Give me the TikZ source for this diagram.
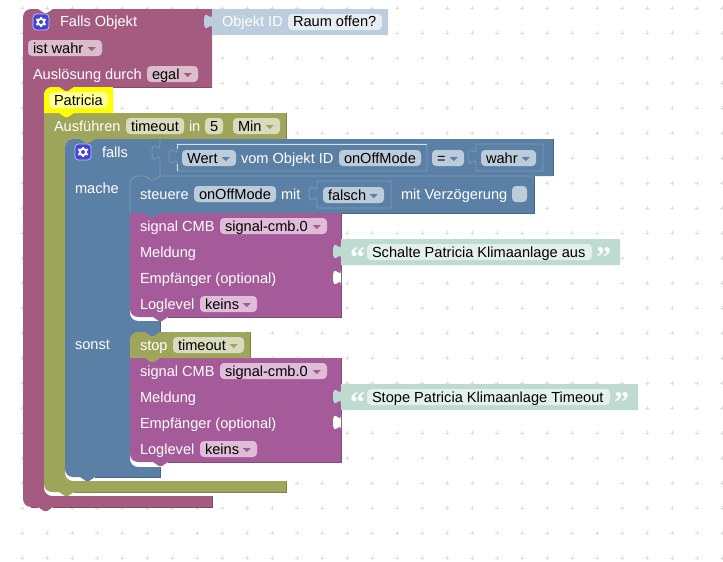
\documentclass[tikz,border=0pt]{standalone}
\usepackage{fontspec}
\setmainfont{Liberation Sans}
\newfontfamily\quotefont{Liberation Serif}[BoldFont={Liberation Serif Bold}]
\definecolor{cred}{HTML}{A55B80}
\definecolor{credd}{HTML}{84496A}
\definecolor{credf}{HTML}{DBBDCC}
\definecolor{colive}{HTML}{9FA55B}
\definecolor{colived}{HTML}{7F8449}
\definecolor{colivef}{HTML}{D8DBBD}
\definecolor{cblue}{HTML}{5B80A5}
\definecolor{cblued}{HTML}{496684}
\definecolor{cbluef}{HTML}{BDCCDB}
\definecolor{cbluel}{HTML}{7F9CB8}
\definecolor{cpurp}{HTML}{A55B99}
\definecolor{cpurpd}{HTML}{84497A}
\definecolor{cpurpf}{HTML}{DFBDD9}
\definecolor{cteal}{HTML}{BEDBD0}
\definecolor{ctealf}{HTML}{E3F0EC}
\definecolor{cobj}{HTML}{BCCDDD}
\definecolor{cobjf}{HTML}{E6ECF2}
\definecolor{cyel}{HTML}{FFFF00}
\definecolor{cyelf}{HTML}{FFFF99}
\definecolor{cgear}{HTML}{4444D8}
\definecolor{cdot}{HTML}{DEDEDE}
\newcount\nid
\newcommand{\tabR}{-- ++(6,4) -- ++(3,0) -- ++(6,-4)}
\newcommand{\tabL}{-- ++(-6,4) -- ++(-3,0) -- ++(-6,-4)}
\newcommand{\cUR}{.. controls +(0,-4.4) and +(-4.4,0) .. ++(8,-8)}
\newcommand{\cDR}{.. controls +(0,4.4) and +(-4.4,0) .. ++(8,8)}
\newcommand{\cLD}{.. controls +(-4.4,0) and +(0,-4.4) .. ++(-8,8)}
\newcommand{\cLU}{.. controls +(-4.4,0) and +(0,4.4) .. ++(-8,-8)}
\newcommand{\pzl}{.. controls +(0,10) and +(0,-15.5) .. ++(-8,7.5) .. controls +(0,15.5) and +(0,-10) .. ++(8,7.5)}
% white label: x, centre y, text, optional colour
\newcommand{\lbl}[4][white]{\global\advance\nid by 1
  \node[txt,text=#1] (n\the\nid) at ({#2},{#3+5}) {#4};}
% field: x0, x1, centre y, fill, text
\newcommand{\fld}[5]{\path[fill=#4,rounded corners=4pt] ({#1},{#3-8}) rectangle ({#2},{#3+8});
  \lbl[black]{#1+5}{#3}{#5}}
% dropdown field: x0, x1, centre y, fill, tri colour, text
\newcommand{\dfld}[6]{\fld{#1}{#2}{#3}{#4}{#6}
  \fill[#5] ({#2-14.5},{#3-1}) -- ({#2-6},{#3-1}) -- ({#2-10.25},{#3+3}) -- cycle;}
\newcommand{\gear}[2]{\fill[cgear,draw=white!70!cgear,line width=0.7pt,rounded corners=3.5pt] ({#1-8},{#2-8}) rectangle ({#1+8},{#2+8});
  \foreach \a in {0,60,...,300}{\draw[white,line width=2pt] ({#1},{#2}) -- ({#1+5.4*cos(\a+30)},{#2+5.4*sin(\a+30)});}
  \fill[white] ({#1},{#2}) circle[radius=4.2];
  \fill[cgear] ({#1},{#2}) circle[radius=2];}
\begin{document}
\begin{tikzpicture}[x=1pt,y=-1pt,
  txt/.style={anchor=base west,inner sep=0pt,outer sep=0pt,font=\fontsize{14.6}{17}\selectfont},
  qt/.style={anchor=base west,inner sep=0pt,outer sep=0pt,text=white,font=\quotefont\bfseries\fontsize{30}{30}\selectfont},
  edge/.style={line width=0.8pt}]
\useasboundingbox (0,0) rectangle (723,562);
\fill[white] (0,0) rectangle (723,562);
% grid
\foreach \gx in {22,47,...,722}{\foreach \gy in {8,33,...,558}{
  \draw[cdot,line width=0.8pt] (\gx-1.6,\gy) -- (\gx+1.6,\gy) (\gx,\gy-1.6) -- (\gx,\gy+1.6);}}
% red outer
\fill[cred] (23,17) \cUR -- (38,9) \tabR -- (212,9) -- (212,87) -- (74,87) \tabL -- (52,87) \cLD
  -- (44,488) \cDR -- (212,496) -- (212,507) -- (53,507) \tabL -- (31,507) \cLU -- cycle;
\draw[credd,edge] (212,87) -- (113,87) (212,496) -- (212,507) -- (53,507) (38,507) -- (31,507);
% object id
\fill[cobj] (212,9) -- (212,14) \pzl -- (212,35) -- (388,35) -- (388,9) -- cycle;
% olive outer
\fill[colive] (44,113) -- (286,113) -- (286,139) -- (95,139) \tabL -- (73,139) \cLD -- (65,473) \cDR
  -- (286,481) -- (286,492) -- (74,492) \tabL -- (52,492) \cLU -- cycle;
\draw[colived,edge] (286,113) -- (286,139) (286,481) -- (286,492) -- (74,492);
% yellow
\fill[cyel] (44,95) \cUR -- (59,87) \tabR -- (113,87) -- (113,113) -- (74,113) \tabL -- (44,113) -- cycle;
% blue outer
\fill[cblue] (65,147) \cUR -- (80,139) \tabR -- (553,139) -- (553,176) -- (160,176) \tabL -- (138,176) \cLD
  -- (130,313) \cDR -- (160,321) -- (160,333) \tabL -- (138,333) \cLD -- (130,459) \cDR
  -- (160,467) -- (160,477) -- (95,477) \tabL -- (73,477) \cLU -- cycle;
\draw[cblued,edge] (553,139) -- (553,176) (160,321) -- (160,333) (160,467) -- (160,477) -- (95,477);
% first purple
\fill[cpurp] (130,213) -- (341,213) -- (341,317) -- (168,317) \tabL -- (138,317) \cLU -- cycle;
\draw[cpurpd,edge] (341,213) -- (341,317) -- (168,317);
% steuere
\fill[cblue] (130,184) \cUR -- (145,176) \tabR -- (534,176) -- (534,213) -- (160,213) \tabL -- (130,213) -- cycle;
\draw[cbluel,line width=0.7pt] (130,213) -- (130,184) \cUR -- (145,176) \tabR -- (534,176);
\draw[cblued,edge] (534,176) -- (534,213) -- (341,213);
% second purple
\fill[cpurp] (130,358) -- (341,358) -- (341,462) -- (168,462) \tabL -- (138,462) \cLU -- cycle;
\draw[cpurpd,edge] (341,358) -- (341,462) -- (168,462);
% stop
\fill[colive] (130,340) \cUR -- (145,332) \tabR -- (250,332) -- (250,358) -- (160,358) \tabL -- (130,358) -- cycle;
\draw[colived,edge] (250,332) -- (250,358);
% teal text blocks
\fill[cteal] (341,239) -- (341,244) \pzl -- (341,265) -- (620,265) -- (620,239) -- cycle;
\fill[cteal] (341,384) -- (341,389) \pzl -- (341,410) -- (638,410) -- (638,384) -- cycle;
% empty sockets
\fill[white] (341,270) \pzl -- cycle;
\fill[white] (341,415) \pzl -- cycle;
% inner sockets of falls row
\draw[cbluel,line width=0.7pt] (160,139) -- (160,145) \pzl -- (160,176);
\draw[cbluel,line width=0.7pt] (177,144) -- (177,149) \pzl -- (177,171) -- (427,171) -- (427,144) -- cycle;
\draw[white!75!cblue,line width=0.7pt] (177,149) -- (177,144) -- (427,144) (177,164) -- (177,171);
\draw[cbluel,line width=0.7pt] (476,144) -- (476,149) \pzl -- (476,171) -- (543,171) -- (543,144) -- cycle;
\draw[cbluel,line width=0.7pt] (317,181) -- (317,186) \pzl -- (317,208) -- (391,208) -- (391,181) -- cycle;
% gears
\gear{41}{22}
\gear{83}{152}
% texts and fields
\lbl{60}{22}{Falls Objekt}
\lbl[white]{222}{22}{Objekt ID}
\fld{288}{382}{22}{cobjf}{Raum offen?}
\dfld{28}{102}{48}{credf}{cred}{ist wahr}
\lbl{33}{74}{Auslösung durch}
\dfld{147}{198}{74}{credf}{cred}{egal}
\fld{49}{108}{100}{cyelf}{Patricia}
\lbl{54}{126}{Ausführen}
\fld{126}{184}{126}{colivef}{timeout}
\lbl{189}{126}{in}
\fld{205}{223}{126}{colivef}{5}
\dfld{233}{280}{126}{colivef}{colive}{Min}
\lbl{102}{152}{falls}
\dfld{182}{236}{158}{cbluef}{cblue}{Wert}
\lbl{241}{158}{vom Objekt ID}
\fld{339}{421}{158}{cbluef}{onOffMode}
\dfld{432}{464}{158}{cbluef}{cblue}{=}
\dfld{481}{536}{158}{cbluef}{cblue}{wahr}
\lbl{75}{188}{mache}
\lbl{140}{194}{steuere}
\fld{194}{276}{194}{cbluef}{onOffMode}
\lbl{281}{194}{mit}
\dfld{323}{384}{195}{cbluef}{cblue}{falsch}
\lbl{401}{194}{mit Verzögerung}
\path[fill=cbluef,rounded corners=4pt] (512,186) rectangle (527,202);
\lbl{140}{226}{signal CMB}
\dfld{220}{327}{226}{cpurpf}{cpurp}{signal-cmb.0}
\lbl{140}{252}{Meldung}
\lbl{140}{278}{Empfänger (optional)}
\lbl{140}{304}{Loglevel}
\dfld{200}{257}{304}{cpurpf}{cpurp}{keins}
\lbl{75}{344}{sonst}
\lbl{140}{345}{stop}
\dfld{173}{244}{345}{colivef}{colive}{timeout}
\lbl{140}{371}{signal CMB}
\dfld{220}{327}{371}{cpurpf}{cpurp}{signal-cmb.0}
\lbl{140}{397}{Meldung}
\lbl{140}{423}{Empfänger (optional)}
\lbl{140}{449}{Loglevel}
\dfld{200}{257}{449}{cpurpf}{cpurp}{keins}
\node[qt] (q1) at (350,267) {“};
\fld{367}{592}{252}{ctealf}{Schalte Patricia Klimaanlage aus}
\node[qt] (q2) at (596,267) {”};
\node[qt] (q3) at (350,412) {“};
\fld{367}{610}{397}{ctealf}{Stope Patricia Klimaanlage Timeout}
\node[qt] (q4) at (614,412) {”};
\end{tikzpicture}
\end{document}
